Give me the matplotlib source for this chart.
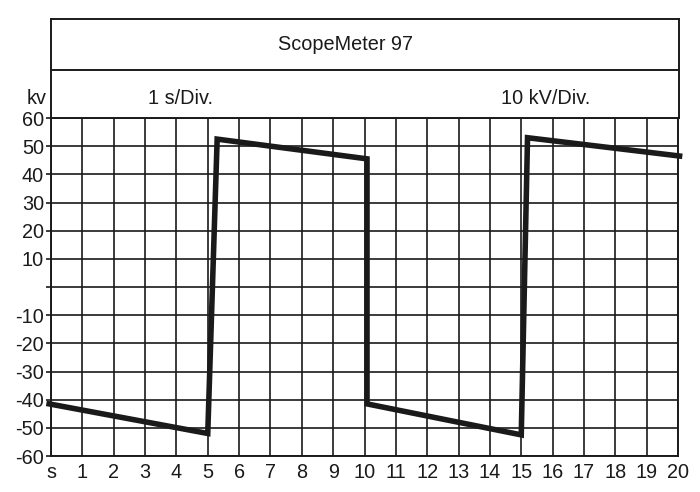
import matplotlib
matplotlib.use("Agg")
import matplotlib.pyplot as plt

# Data
time_s = [-0.06, 5.0, 5.3, 10.08, 10.08, 15.0, 15.2, 20.05]
voltage_kv = [-41.5, -52.0, 52.5, 45.5, -41.5, -52.5, 53.0, 46.5]
x_ticks = list(range(0, 21))
x_labels = ["s"] + [str(i) for i in range(1, 21)]
y_ticks = list(range(-60, 61, 10))
y_labels = ["" if v == 0 else str(v) for v in y_ticks]

title = "ScopeMeter 97"
time_div = "1 s/Div."
volt_div = "10 kV/Div."
unit = "kv"

plt.rcParams['font.family'] = ['Liberation Sans', 'DejaVu Sans']
ink = "#1a1a1a"
fs = 14.3

fig = plt.figure(figsize=(7, 4.92), dpi=100)
W, H = 700, 492
L, R = 51 / W, 678 / W
B, T = (H - 456) / H, (H - 118) / H

ax = fig.add_axes([L, B, R - L, T - B])
ax.plot(time_s, voltage_kv, color=ink, lw=4.0, solid_joinstyle="miter", clip_on=False, zorder=3)
ax.set_xlim(0, 20)
ax.set_ylim(-60, 60)
ax.set_xticks(x_ticks)
ax.set_xticklabels(x_labels)
ax.set_yticks(y_ticks)
ax.set_yticklabels(y_labels)
ax.grid(True, color=ink, lw=1.2)
ax.tick_params(axis="x", length=0, pad=5, labelsize=fs, colors=ink)
ax.tick_params(axis="y", length=3.5, width=1.2, pad=1.5, labelsize=fs, colors=ink, direction="out")
for s in ax.spines.values():
    s.set_color(ink)
    s.set_linewidth(1.4)

# Header box
top = (H - 19) / H
hx = fig.add_axes([L, T, R - L + 1 / W, top - T])
hx.set_xlim(0, 1)
hx.set_ylim(0, 1)
hx.set_xticks([])
hx.set_yticks([])
for s in hx.spines.values():
    s.set_color(ink)
    s.set_linewidth(1.4)
sep = (118 - 70) / (118 - 19)
hx.axhline(sep, color=ink, lw=1.4)

fig.text(345 / W, (H - 44) / H, title, ha="center", va="center", fontsize=fs, color=ink)
fig.text(181 / W, (H - 98) / H, time_div, ha="center", va="center", fontsize=fs, color=ink)
fig.text(546 / W, (H - 98) / H, volt_div, ha="center", va="center", fontsize=fs, color=ink)
fig.text(47 / W, (H - 98) / H, unit, ha="right", va="center", fontsize=fs, color=ink)

fig.savefig("out.png", dpi=100)
